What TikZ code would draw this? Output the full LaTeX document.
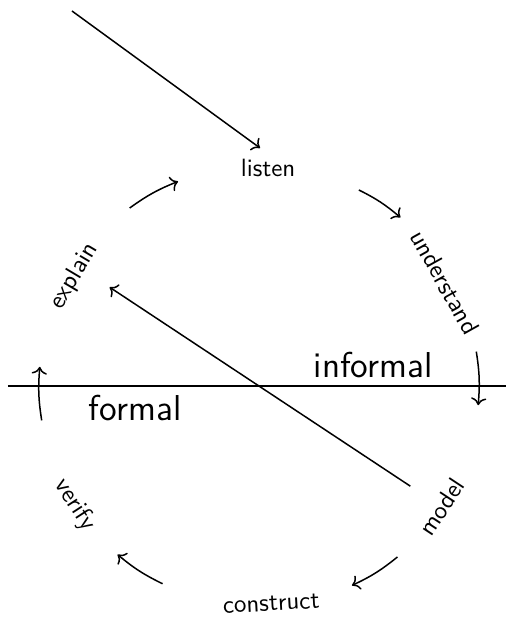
\documentclass[tikz,border=0pt]{standalone}
\usepackage{tikz}
\usetikzlibrary{arrows.meta}
\begin{document}
\begin{tikzpicture}[x=0.4pt, y=0.4pt, every node/.style={font=\sffamily}, b/.style={inner sep=2pt}, a/.style={->,semithick}]
\useasboundingbox (-259,-236) rectangle (247,386);
\node[b] (listen) at (87.6:218) {listen};
\node[b,rotate=-60.8] (understand) at (29.2:213) {understand};
\node[b,rotate=56.5] (model) at (-33.5:219) {model};
\node[b,rotate=3.2] (construct) at (-86.8:218) {construct};
\node[b,rotate=-57.1] (verify) at (-147.1:219) {verify};
\node[b,rotate=59.3] (explain) at (149.3:215) {explain};
\node[font=\sffamily\Large,anchor=base west] (informal) at (46,9) {informal};
\node[font=\sffamily\Large,anchor=base west] (formal) at (-179,-34) {formal};
\coordinate (left) at (-251,0);
\coordinate (right) at (247,0);
\draw[semithick] (left) -- (right);
\coordinate (outside) at (-187,375);
\draw[a,shorten >=4pt] (outside) -- (listen.north);
\draw[a,shorten <=15pt,shorten >=17pt] (model.center) -- ([yshift=5pt]explain.center);
% short arcs round the cycle
\foreach \s/\e [count=\i] in {126/111.6,63/50,9/-5,-51/-65,-116/-130,189/175}{
  \coordinate (p\i) at (\s:220);
  \coordinate (q\i) at (\e:220);
  \draw[a] (p\i) to[bend left=7] (q\i);
}
\end{tikzpicture}
\end{document}
